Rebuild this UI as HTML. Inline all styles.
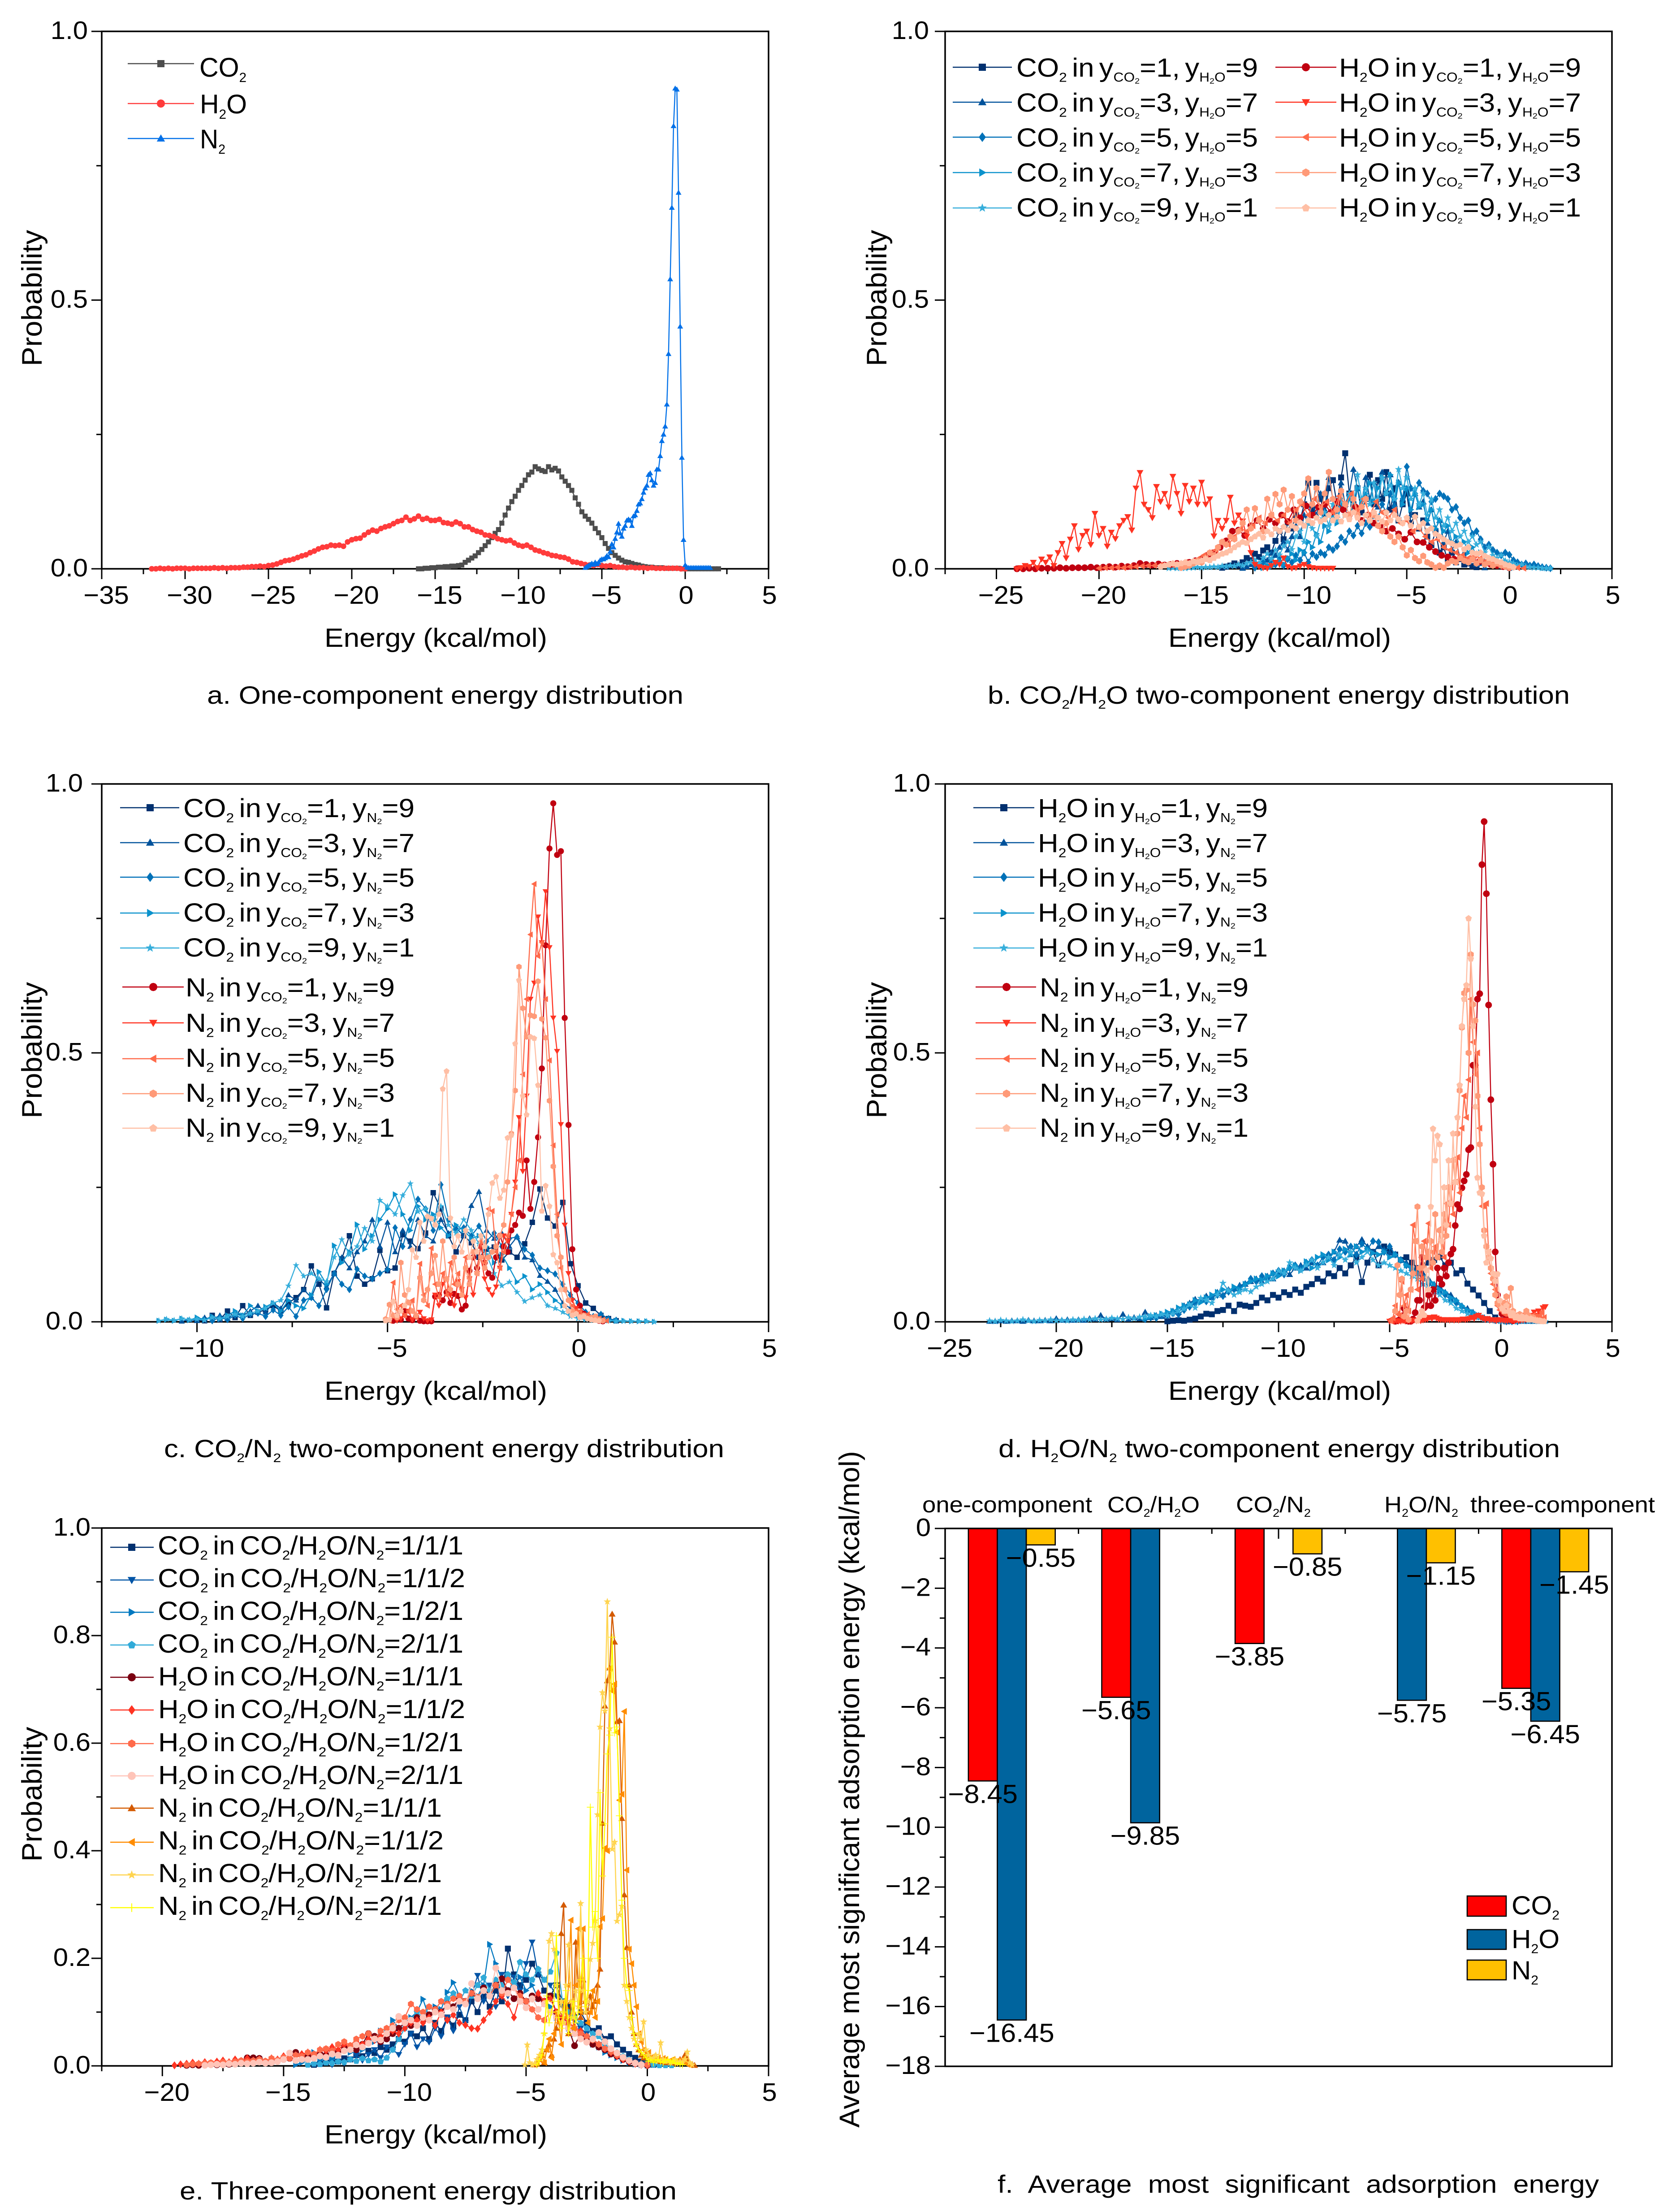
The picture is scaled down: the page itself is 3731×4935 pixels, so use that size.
<!DOCTYPE html>
<html lang="en">
<head>
<meta charset="utf-8">
<title>Energy distribution panels</title>
<style>
html,body{margin:0;padding:0;background:#fff}
#page{position:relative;width:3731px;height:4935px;overflow:hidden;background:#fff;font-family:"Liberation Sans",Arial,sans-serif;color:#000}
#chart{position:absolute;left:0;top:0}
#chart text{font-family:"Liberation Sans",Arial,sans-serif;fill:#000}
.t{position:absolute;white-space:nowrap;line-height:0;font-size:58px;word-spacing:-.1em;transform-origin:0 0}
.t sub{font-size:.5em;vertical-align:-.4em;line-height:0}
.t sub sub{font-size:.62em;vertical-align:-.25em}
.cap{font-size:56px;word-spacing:0}
.big{font-size:60px}
.cat{font-size:50px;word-spacing:0}
</style>
</head>
<body>
<div id="page">
<svg id="chart" width="3731" height="4935" viewBox="0 0 3731 4935" xmlns="http://www.w3.org/2000/svg">
<text font-size="56" text-anchor="middle" transform="translate(93,665) rotate(-90) scale(1.163,1.12)">Probability</text>
<text font-size="56" text-anchor="middle" transform="translate(1978,665) rotate(-90) scale(1.163,1.12)">Probability</text>
<text font-size="56" text-anchor="middle" transform="translate(93,2343) rotate(-90) scale(1.163,1.12)">Probability</text>
<text font-size="56" text-anchor="middle" transform="translate(1978,2343) rotate(-90) scale(1.163,1.12)">Probability</text>
<text font-size="56" text-anchor="middle" transform="translate(93,4003) rotate(-90) scale(1.15,1.12)">Probability</text>
<text font-size="56" text-anchor="middle" transform="translate(1917,3992) rotate(-90) scale(1.134,1.12)">Average most significant adsorption energy (kcal/mol)</text>
</svg>

<!-- axis titles -->
<div class="t" style="word-spacing:0" data-x="724" data-b="1444" data-w="497">Energy (kcal/mol)</div>
<div class="t" style="word-spacing:0" data-x="2607" data-b="1444" data-w="497">Energy (kcal/mol)</div>
<div class="t" style="word-spacing:0" data-x="724" data-b="3124" data-w="497">Energy (kcal/mol)</div>
<div class="t" style="word-spacing:0" data-x="2607" data-b="3124" data-w="497">Energy (kcal/mol)</div>
<div class="t" style="word-spacing:0" data-x="724" data-b="4783" data-w="497">Energy (kcal/mol)</div>

<!-- captions -->
<div class="t cap" data-x="462" data-b="1570" data-w="1063">a. One-component energy distribution</div>
<div class="t cap" data-x="2204" data-b="1570" data-w="1299">b. CO<sub>2</sub>/H<sub>2</sub>O two-component energy distribution</div>
<div class="t cap" data-x="366" data-b="3251" data-w="1250">c. CO<sub>2</sub>/N<sub>2</sub> two-component energy distribution</div>
<div class="t cap" data-x="2228" data-b="3251" data-w="1253">d. H<sub>2</sub>O/N<sub>2</sub> two-component energy distribution</div>
<div class="t cap" data-x="401" data-b="4907" data-w="1109">e. Three-component energy distribution</div>
<div class="t cap" style="word-spacing:.3em" data-x="2226" data-b="4892" data-w="1342">f. Average most significant adsorption energy</div>

<!-- legend a -->
<div class="t big" data-x="445" data-b="172" data-w="105">CO<sub>2</sub></div>
<div class="t big" data-x="446" data-b="254" data-w="105">H<sub>2</sub>O</div>
<div class="t big" data-x="446" data-b="332" data-w="57">N<sub>2</sub></div>

<!-- legend b -->
<div class="t" data-x="2268" data-b="172" data-w="539">CO<sub>2</sub> in y<sub>CO<sub>2</sub></sub>=1, y<sub>H<sub>2</sub>O</sub>=9</div>
<div class="t" data-x="2268" data-b="250" data-w="539">CO<sub>2</sub> in y<sub>CO<sub>2</sub></sub>=3, y<sub>H<sub>2</sub>O</sub>=7</div>
<div class="t" data-x="2268" data-b="328" data-w="539">CO<sub>2</sub> in y<sub>CO<sub>2</sub></sub>=5, y<sub>H<sub>2</sub>O</sub>=5</div>
<div class="t" data-x="2268" data-b="406" data-w="539">CO<sub>2</sub> in y<sub>CO<sub>2</sub></sub>=7, y<sub>H<sub>2</sub>O</sub>=3</div>
<div class="t" data-x="2268" data-b="484" data-w="539">CO<sub>2</sub> in y<sub>CO<sub>2</sub></sub>=9, y<sub>H<sub>2</sub>O</sub>=1</div>
<div class="t" data-x="2988" data-b="172" data-w="540">H<sub>2</sub>O in y<sub>CO<sub>2</sub></sub>=1, y<sub>H<sub>2</sub>O</sub>=9</div>
<div class="t" data-x="2988" data-b="250" data-w="540">H<sub>2</sub>O in y<sub>CO<sub>2</sub></sub>=3, y<sub>H<sub>2</sub>O</sub>=7</div>
<div class="t" data-x="2988" data-b="328" data-w="540">H<sub>2</sub>O in y<sub>CO<sub>2</sub></sub>=5, y<sub>H<sub>2</sub>O</sub>=5</div>
<div class="t" data-x="2988" data-b="406" data-w="540">H<sub>2</sub>O in y<sub>CO<sub>2</sub></sub>=7, y<sub>H<sub>2</sub>O</sub>=3</div>
<div class="t" data-x="2988" data-b="484" data-w="540">H<sub>2</sub>O in y<sub>CO<sub>2</sub></sub>=9, y<sub>H<sub>2</sub>O</sub>=1</div>

<!-- legend c -->
<div class="t" data-x="409" data-b="1824" data-w="516">CO<sub>2</sub> in y<sub>CO<sub>2</sub></sub>=1, y<sub>N<sub>2</sub></sub>=9</div>
<div class="t" data-x="409" data-b="1902" data-w="516">CO<sub>2</sub> in y<sub>CO<sub>2</sub></sub>=3, y<sub>N<sub>2</sub></sub>=7</div>
<div class="t" data-x="409" data-b="1979" data-w="516">CO<sub>2</sub> in y<sub>CO<sub>2</sub></sub>=5, y<sub>N<sub>2</sub></sub>=5</div>
<div class="t" data-x="409" data-b="2057" data-w="516">CO<sub>2</sub> in y<sub>CO<sub>2</sub></sub>=7, y<sub>N<sub>2</sub></sub>=3</div>
<div class="t" data-x="409" data-b="2135" data-w="516">CO<sub>2</sub> in y<sub>CO<sub>2</sub></sub>=9, y<sub>N<sub>2</sub></sub>=1</div>
<div class="t" data-x="414" data-b="2224" data-w="467">N<sub>2</sub> in y<sub>CO<sub>2</sub></sub>=1, y<sub>N<sub>2</sub></sub>=9</div>
<div class="t" data-x="414" data-b="2303" data-w="467">N<sub>2</sub> in y<sub>CO<sub>2</sub></sub>=3, y<sub>N<sub>2</sub></sub>=7</div>
<div class="t" data-x="414" data-b="2381" data-w="467">N<sub>2</sub> in y<sub>CO<sub>2</sub></sub>=5, y<sub>N<sub>2</sub></sub>=5</div>
<div class="t" data-x="414" data-b="2459" data-w="467">N<sub>2</sub> in y<sub>CO<sub>2</sub></sub>=7, y<sub>N<sub>2</sub></sub>=3</div>
<div class="t" data-x="414" data-b="2537" data-w="467">N<sub>2</sub> in y<sub>CO<sub>2</sub></sub>=9, y<sub>N<sub>2</sub></sub>=1</div>

<!-- legend d -->
<div class="t" data-x="2316" data-b="1824" data-w="513">H<sub>2</sub>O in y<sub>H<sub>2</sub>O</sub>=1, y<sub>N<sub>2</sub></sub>=9</div>
<div class="t" data-x="2316" data-b="1902" data-w="513">H<sub>2</sub>O in y<sub>H<sub>2</sub>O</sub>=3, y<sub>N<sub>2</sub></sub>=7</div>
<div class="t" data-x="2316" data-b="1979" data-w="513">H<sub>2</sub>O in y<sub>H<sub>2</sub>O</sub>=5, y<sub>N<sub>2</sub></sub>=5</div>
<div class="t" data-x="2316" data-b="2057" data-w="513">H<sub>2</sub>O in y<sub>H<sub>2</sub>O</sub>=7, y<sub>N<sub>2</sub></sub>=3</div>
<div class="t" data-x="2316" data-b="2135" data-w="513">H<sub>2</sub>O in y<sub>H<sub>2</sub>O</sub>=9, y<sub>N<sub>2</sub></sub>=1</div>
<div class="t" data-x="2320" data-b="2224" data-w="466">N<sub>2</sub> in y<sub>H<sub>2</sub>O</sub>=1, y<sub>N<sub>2</sub></sub>=9</div>
<div class="t" data-x="2320" data-b="2303" data-w="466">N<sub>2</sub> in y<sub>H<sub>2</sub>O</sub>=3, y<sub>N<sub>2</sub></sub>=7</div>
<div class="t" data-x="2320" data-b="2381" data-w="466">N<sub>2</sub> in y<sub>H<sub>2</sub>O</sub>=5, y<sub>N<sub>2</sub></sub>=5</div>
<div class="t" data-x="2320" data-b="2459" data-w="466">N<sub>2</sub> in y<sub>H<sub>2</sub>O</sub>=7, y<sub>N<sub>2</sub></sub>=3</div>
<div class="t" data-x="2320" data-b="2537" data-w="466">N<sub>2</sub> in y<sub>H<sub>2</sub>O</sub>=9, y<sub>N<sub>2</sub></sub>=1</div>

<!-- legend e -->
<div class="t" data-x="352" data-b="3469" data-w="682">CO<sub>2</sub> in CO<sub>2</sub>/H<sub>2</sub>O/N<sub>2</sub>=1/1/1</div>
<div class="t" data-x="352" data-b="3542" data-w="686">CO<sub>2</sub> in CO<sub>2</sub>/H<sub>2</sub>O/N<sub>2</sub>=1/1/2</div>
<div class="t" data-x="352" data-b="3615" data-w="682">CO<sub>2</sub> in CO<sub>2</sub>/H<sub>2</sub>O/N<sub>2</sub>=1/2/1</div>
<div class="t" data-x="352" data-b="3688" data-w="682">CO<sub>2</sub> in CO<sub>2</sub>/H<sub>2</sub>O/N<sub>2</sub>=2/1/1</div>
<div class="t" data-x="353" data-b="3761" data-w="681">H<sub>2</sub>O in CO<sub>2</sub>/H<sub>2</sub>O/N<sub>2</sub>=1/1/1</div>
<div class="t" data-x="353" data-b="3834" data-w="685">H<sub>2</sub>O in CO<sub>2</sub>/H<sub>2</sub>O/N<sub>2</sub>=1/1/2</div>
<div class="t" data-x="353" data-b="3908" data-w="681">H<sub>2</sub>O in CO<sub>2</sub>/H<sub>2</sub>O/N<sub>2</sub>=1/2/1</div>
<div class="t" data-x="353" data-b="3981" data-w="681">H<sub>2</sub>O in CO<sub>2</sub>/H<sub>2</sub>O/N<sub>2</sub>=2/1/1</div>
<div class="t" data-x="353" data-b="4054" data-w="633">N<sub>2</sub> in CO<sub>2</sub>/H<sub>2</sub>O/N<sub>2</sub>=1/1/1</div>
<div class="t" data-x="353" data-b="4127" data-w="637">N<sub>2</sub> in CO<sub>2</sub>/H<sub>2</sub>O/N<sub>2</sub>=1/1/2</div>
<div class="t" data-x="353" data-b="4200" data-w="633">N<sub>2</sub> in CO<sub>2</sub>/H<sub>2</sub>O/N<sub>2</sub>=1/2/1</div>
<div class="t" data-x="353" data-b="4273" data-w="633">N<sub>2</sub> in CO<sub>2</sub>/H<sub>2</sub>O/N<sub>2</sub>=2/1/1</div>

<!-- panel f category labels and legend -->
<div class="t cat" data-x="2058" data-b="3374" data-w="379">one-component</div>
<div class="t cat" data-x="2471" data-b="3374" data-w="206">CO<sub>2</sub>/H<sub>2</sub>O</div>
<div class="t cat" data-x="2758" data-b="3374" data-w="167">CO<sub>2</sub>/N<sub>2</sub></div>
<div class="t cat" data-x="3089" data-b="3374" data-w="165">H<sub>2</sub>O/N<sub>2</sub></div>
<div class="t cat" data-x="3281" data-b="3374" data-w="412">three-component</div>
<div class="t" data-x="3373" data-b="4272" data-w="107">CO<sub>2</sub></div>
<div class="t" data-x="3373" data-b="4347" data-w="107">H<sub>2</sub>O</div>
<div class="t" data-x="3373" data-b="4417" data-w="60">N<sub>2</sub></div>
</div>

<script>
/* ---------- panel a: probability values ---------- */
const aCO2=[0,0,.001,.001,.002,.002,.003,.003,.004,.004,.005,.005,.006,.007,.012,.016,.02,.024,.03,.036,.043,.05,.058,.066,.073,.085,.1,.113,.125,.135,.146,.155,.165,.175,.18,.19,.186,.183,.181,.19,.184,.187,.182,.171,.163,.155,.146,.132,.12,.106,.098,.092,.085,.075,.067,.058,.047,.038,.03,.025,.02,.016,.013,.012,.01,.008,.007,.005,.004,.003,.003,.002,.002,.002,.001,.001,.001,.001,.001,0,0,0,0,0,0,0,0,0,0,0,0];
const aH2O=[0,0,.001,0,.001,0,.001,.001,.001,0,.001,.001,.001,.001,.001,.002,.001,.002,.001,.002,.002,.002,.003,.003,.004,.004,.005,.004,.006,.007,.009,.012,.015,.016,.018,.021,.024,.026,.03,.033,.037,.04,.041,.044,.043,.044,.042,.05,.054,.056,.057,.063,.068,.072,.07,.075,.078,.08,.084,.088,.09,.096,.09,.093,.098,.092,.094,.09,.09,.092,.086,.085,.083,.087,.084,.078,.078,.073,.07,.068,.063,.062,.06,.056,.054,.052,.053,.048,.044,.042,.044,.04,.035,.033,.03,.028,.025,.024,.022,.021,.018,.013,.012,.01,.008,.007,.006,.008,.006,.005,.006,.004,.003,.003,.002,.003,.002,.002,.002,.001,.002,.001,.001,.001,.001,.001,.001,0,0];
const aN2=[.002,.004,.006,.008,.01,.008,.012,.009,.012,.016,.018,.018,.02,.024,.022,.032,.046,.04,.056,.068,.084,.066,.06,.075,.08,.09,.092,.09,.08,.098,.1,.108,.12,.122,.13,.142,.15,.155,.175,.178,.165,.155,.16,.185,.185,.21,.238,.25,.265,.306,.4,.539,.672,.824,.894,.892,.7,.451,.207,.054,.007,.003,.002,.002,.002,.002,.002,.002,.002,.002,.002,.002,.002,.002,.002,.002];
const aValues=[aCO2,aH2O,aN2];
const aStarts=[-16,-32,-6];
const aSteps=[.2,.25,.1];

/* ---------- panel b ---------- */
const bCO2y1=[.002,.004,.006,.01,.006,.012,.02,.016,.028,.022,.034,.04,.03,.052,.07,.055,.086,.075,.1,.09,.12,.16,.11,.16,.13,.1,.15,.165,.12,.17,.215,.14,.12,.15,.105,.13,.175,.12,.165,.13,.18,.11,.15,.09,.12,.14,.085,.1,.075,.09,.06,.044,.07,.03,.04,.016,.03,.012,.018,.008,.01,.005,.003];
const bCO2y3=[.001,.004,.008,.012,.01,.02,.016,.03,.025,.04,.05,.035,.06,.08,.06,.1,.085,.12,.1,.14,.11,.17,.13,.1,.16,.12,.14,.185,.15,.12,.17,.13,.16,.115,.18,.14,.175,.12,.16,.13,.15,.1,.14,.115,.125,.085,.11,.075,.09,.05,.07,.035,.05,.02,.03,.012,.018,.008,.01,.002];
const bCO2y5=[.002,.006,.012,.004,.016,.008,.022,.006,.018,.012,.025,.016,.03,.012,.028,.022,.03,.026,.04,.035,.042,.058,.05,.07,.062,.08,.066,.085,.078,.1,.095,.12,.105,.14,.115,.16,.13,.19,.15,.14,.16,.145,.14,.125,.13,.14,.135,.13,.11,.115,.095,.085,.09,.065,.07,.055,.04,.045,.035,.03,.025,.03,.026,.016,.012,.008,.01,.006,.008,.005,.003,.002,.001];
const bCO2y7=[.002,.006,.004,.01,.015,.008,.02,.028,.016,.035,.03,.05,.04,.065,.05,.08,.07,.1,.085,.12,.1,.13,.11,.15,.12,.14,.16,.125,.15,.17,.14,.175,.13,.16,.12,.15,.11,.14,.115,.12,.09,.11,.075,.09,.07,.08,.05,.06,.045,.05,.03,.04,.025,.03,.015,.02,.01,.012,.006,.004,.003,.002];
const bCO2y9=[.001,.002,.001,.002,.001,.002,.002,.003,.002,.003,.003,.004,.003,.005,.004,.006,.005,.008,.006,.01,.012,.016,.01,.02,.028,.018,.035,.026,.042,.05,.036,.06,.07,.05,.085,.075,.06,.09,.105,.08,.12,.09,.13,.1,.14,.12,.175,.13,.15,.12,.16,.13,.17,.14,.155,.13,.185,.15,.17,.13,.15,.12,.14,.1,.13,.095,.11,.08,.095,.07,.085,.06,.07,.05,.06,.045,.05,.03,.04,.025,.02,.025,.015,.012,.01,.006,.008,.004,.003,.002,.002,.001,.001,.001];
const bH2Oy1=[0,0,.001,0,.001,.001,.001,.002,.001,.002,.002,.002,.003,.002,.003,.004,.003,.005,.004,.006,.01,.008,.007,.009,.007,.008,.01,.008,.012,.015,.018,.025,.03,.04,.052,.07,.072,.062,.08,.09,.075,.092,.085,.1,.088,.11,.095,.117,.1,.115,.12,.105,.125,.11,.1,.115,.09,.1,.085,.08,.07,.075,.065,.055,.068,.05,.049,.04,.032,.025,.022,.018,.02,.016,.018,.0125,.01,.008,.006,.004,.002];
const bH2Oy3=[0,.002,.006,.004,.012,.002,.018,.012,.022,.006,.03,.047,.02,.055,.08,.036,.062,.07,.045,.103,.062,.075,.042,.068,.056,.08,.09,.097,.072,.15,.179,.12,.11,.095,.153,.125,.14,.115,.172,.14,.103,.155,.125,.15,.12,.161,.12,.13,.061,.09,.075,.09,.133,.085,.1,.089,.06,.03,.008,.004,.002,.001,.006,.012,.008,.02,.004,.001,.002,.005,.008,.004,.002,.001,.001,.001,.001,.001];
const bH2Oy5=[.001,.002,.002,.003,.002,.004,.004,.005,.006,.006,.007,.008,.007,.01,.012,.012,.018,.025,.03,.035,.05,.045,.06,.075,.07,.08,.095,.085,.1,.09,.1,.085,.11,.12,.1,.13,.115,.125,.105,.135,.12,.14,.11,.13,.1,.125,.105,.095,.11,.085,.09,.07,.075,.06,.05,.055,.04,.035,.03,.025,.02,.025,.02,.015,.012,.01,.006,.003,.002,.001];
const bH2Oy7=[.002,.004,.006,.01,.015,.012,.02,.03,.025,.04,.05,.045,.06,.055,.07,.085,.11,.075,.1125,.09,.07,.13,.1,.139,.12,.147,.11,.135,.09,.125,.14,.168,.12,.15,.105,.14,.18,.13,.11,.145,.12,.1,.13,.1,.115,.13,.09,.1,.08,.07,.085,.06,.05,.06,.04,.025,.035,.02,.014,.024,.012,.008,.002,.006,.002,.01,.015,.012,.02,.015,.012,.018,.01,.016,.008,.012,.006,.01,.006,.004,.002];
const bH2Oy9=[.004,.006,.008,.01,.008,.01,.012,.01,.014,.012,.015,.018,.016,.02,.024,.028,.03,.034,.04,.045,.05,.048,.055,.06,.065,.058,.07,.064,.075,.07,.078,.072,.08,.075,.086,.08,.09,.085,.095,.088,.092,.1,.09,.097,.088,.1,.092,.105,.095,.085,.1,.09,.105,.095,.088,.105,.09,.1,.092,.085,.095,.08,.097,.078,.085,.07,.075,.065,.06,.055,.05,.047,.042,.045,.036,.04,.03,.028,.03,.024,.02,.018,.014,.012,.008,.006,.003];
const bValues=[bCO2y1,bCO2y3,bCO2y5,bCO2y7,bCO2y9,bH2Oy1,bH2Oy3,bH2Oy5,bH2Oy7,bH2Oy9];
const bStarts=[-14,-13,-12.4,-12,-16.6,-24,-24,-20,-16,-17];
const bSteps=[.2,.2,.2,.2,.2,.3,.2,.3,.2,.2];

/* ---------- panel c ---------- */
const cCO2y1=[.003,.002,.012,.004,.02,.008,.03,.012,.018,.022,.03,.02,.035,.045,.06,.104,.07,.026,.09,.117,.16,.085,.07,.08,.133,.095,.1,.162,.15,.136,.165,.24,.21,.16,.13,.16,.147,.12,.135,.139,.115,.13,.12,.145,.185,.247,.193,.178,.222,.108,.067,.035,.025,.012,.006,.002];
const cCO2y3=[.001,.004,.002,.008,.004,.012,.006,.016,.012,.02,.03,.018,.035,.025,.05,.04,.06,.045,.08,.065,.09,.12,.1,.13,.15,.19,.14,.185,.13,.17,.14,.19,.16,.15,.19,.165,.175,.16,.216,.242,.17,.155,.165,.14,.158,.12,.115,.086,.075,.06,.035,.025,.018,.01,.008,.006,.004,.002];
const cCO2y5=[.002,.008,.004,.012,.006,.014,.016,.01,.022,.012,.028,.01,.04,.045,.03,.06,.09,.07,.06,.098,.085,.08,.09,.097,.175,.14,.19,.228,.21,.17,.255,.19,.17,.175,.16,.178,.15,.165,.14,.155,.158,.135,.124,.1,.095,.089,.07,.05,.035,.018,.01,.014,.006,.003];
const cCO2y7=[.002,.004,.002,.006,.003,.008,.004,.01,.005,.012,.02,.012,.03,.02,.028,.035,.02,.04,.03,.025,.05,.093,.07,.142,.11,.13,.181,.135,.16,.19,.21,.237,.2,.17,.215,.19,.2,.175,.16,.18,.17,.155,.16,.14,.11,.125,.1,.074,.085,.06,.07,.055,.04,.03,.018,.012,.006,.004,.006,.003,.002,.002,.001,.001,.001,0];
const cCO2y9=[.002,.005,.003,.006,.004,.005,.003,.008,.006,.01,.014,.01,.016,.02,.025,.035,.04,.067,.105,.085,.09,.08,.075,.12,.153,.125,.14,.174,.15,.226,.215,.2,.235,.257,.205,.21,.19,.215,.18,.165,.19,.17,.145,.125,.09,.067,.074,.055,.038,.045,.05,.03,.025,.018,.01,.006,.004,.003,.002,.002,.001,.001,.001,.001,.001,0];
const cN2y1=[.002,.012,.004,.02,.006,.003,.01,.002,.001,.001,.001,.047,.05,.04,.055,.035,.052,.048,.023,.03,.095,.12,.1,.14,.11,.09,.082,.12,.16,.14,.13,.17,.18,.203,.197,.3,.21,.26,.343,.471,.7,.88,.964,.868,.875,.565,.366,.135,.06,.03,.015,.01,.006,.004,.002,.001];
const cN2y3=[.01,.002,.006,.012,.02,.004,.012,.018,.006,.002,.004,.05,.03,.07,.08,.05,.03,.075,.06,.045,.08,.05,.09,.12,.08,.06,.05,.065,.1,.16,.15,.2,.26,.38,.28,.42,.6,.63,.753,.705,.8,.696,.565,.503,.367,.18,.09,.04,.025,.015,.01,.006,.008,.004,.006,.002];
const cN2y5=[.002,.073,.023,.03,.012,.02,.04,.008,.108,.05,.03,.137,.07,.045,.09,.05,.11,.07,.09,.06,.12,.08,.13,.09,.15,.11,.21,.206,.13,.1,.13,.16,.2,.25,.3,.46,.6,.72,.814,.68,.705,.6,.486,.328,.2,.1,.06,.04,.03,.02,.02,.012,.014,.008,.01,.006,.004,.002];
const cN2y7=[.005,.032,.012,.008,.11,.05,.036,.02,.012,.082,.04,.06,.09,.123,.07,.15,.08,.06,.12,.07,.05,.1,.07,.13,.09,.12,.1,.12,.13,.14,.16,.18,.26,.35,.43,.66,.583,.53,.57,.568,.633,.563,.528,.411,.289,.16,.12,.06,.04,.02,.015,.01,.012,.006,.008,.01,.004,.002];
const cN2y9=[.002,.004,.038,.012,.02,.03,.06,.134,.12,.185,.15,.196,.192,.18,.2,.433,.466,.193,.14,.16,.13,.17,.12,.15,.13,.16,.14,.2,.258,.27,.23,.245,.342,.347,.517,.635,.42,.385,.53,.527,.44,.206,.253,.215,.125,.11,.06,.03,.02,.012,.015,.008,.01,.006,.004,.003,.002];
const cValues=[cCO2y1,cCO2y3,cCO2y5,cCO2y7,cCO2y9,cN2y1,cN2y3,cN2y5,cN2y7,cN2y9];
const cStarts=[-10,-10.4,-9.6,-11,-11,-4.85,-4.85,-4.95,-5.05,-5.05];
const cSteps=[.2,.2,.2,.2,.2,.1,.1,.1,.1,.1];

/* ---------- panel d ---------- */
const dH2Oy1=[.001,.002,.003,.002,.004,.006,.01,.015,.014,.02,.022,.03,.02,.032,.03,.028,.035,.045,.04,.05,.045,.055,.05,.06,.054,.065,.07,.08,.075,.09,.085,.1,.09,.105,.12,.074,.11,.13,.105,.14,.132,.125,.115,.12,.11,.1,.105,.11,.115,.121,.105,.11,.09,.096,.071,.06,.049,.035,.02,.008,.003,.001];
const dH2Oy3=[.001,.001,.002,.001,.002,.002,.001,.003,.002,.002,.003,.002,.006,.003,.004,.003,.004,.003,.006,.005,.012,.005,.006,.004,.014,.005,.008,.006,.018,.008,.012,.01,.012,.02,.018,.03,.035,.042,.04,.048,.045,.055,.05,.06,.062,.068,.07,.075,.08,.075,.085,.08,.09,.095,.088,.1,.105,.1,.11,.105,.11,.12,.13,.152,.15,.125,.14,.153,.14,.13,.14,.135,.128,.125,.115,.11,.1,.095,.09,.08,.07,.065,.055,.05,.04,.03,.025,.018,.012,.008,.005,.003,.002,.001,.001,.001,.001,.001,.001,.001,.002];
const dH2Oy5=[.005,.008,.007,.012,.012,.016,.014,.022,.028,.034,.04,.038,.046,.05,.048,.056,.06,.065,.07,.08,.075,.085,.08,.09,.095,.088,.1,.105,.1,.11,.115,.105,.12,.125,.115,.135,.13,.14,.125,.145,.135,.15,.148,.13,.14,.125,.115,.105,.095,.09,.08,.07,.065,.055,.05,.04,.035,.028,.02,.014,.01,.006,.004,.003,.002,.001,.001,.001];
const dH2Oy7=[.006,.01,.012,.015,.018,.02,.026,.03,.032,.04,.036,.045,.05,.055,.06,.058,.065,.06,.07,.075,.08,.078,.085,.09,.085,.095,.1,.105,.095,.112,.1,.12,.125,.115,.13,.12,.135,.125,.14,.13,.135,.128,.125,.13,.12,.125,.115,.105,.1,.09,.085,.075,.07,.06,.055,.045,.04,.03,.022,.018,.012,.008,.005,.003,.002,.001,.001,.001];
const dH2Oy9=[.002,.001,.003,.002,.001,.002,.004,.002,.001,.003,.002,.004,.002,.003,.002,.004,.003,.005,.004,.006,.004,.005,.007,.006,.005,.008,.006,.009,.01,.012,.01,.014,.012,.015,.02,.024,.032,.026,.044,.04,.035,.05,.072,.058,.05,.055,.06,.056,.065,.07,.075,.08,.095,.09,.11,.1,.095,.105,.115,.1,.11,.12,.105,.125,.115,.13,.11,.12,.13,.115,.105,.11,.105,.1,.095,.09,.085,.08,.07,.062,.055,.05,.04,.035,.025,.02,.015,.01,.008,.005,.004,.003,.002,.002,.002,.001,.001,.001,.001,.002,.001];
const dN2y1=[.001,.002,.004,.01,.025,.002,.001,.001,.005,.017,.04,.04,.12,.026,.03,.05,.03,.06,.04,.1,.08,.07,.1,.085,.11,.126,.135,.179,.218,.21,.249,.262,.274,.32,.324,.477,.477,.6,.61,.85,.93,.796,.589,.413,.293,.13,.05,.03,.015,.02,.008,.006,.004,.002];
const dN2y3=[.001,.002,.001,.002,.001,.001,.002,.001,.002,.002,.002,.003,.002,.003,.002,.003,.004,.005,.008,.006,.009,.007,.005,.004,.004,.003,.004,.003,.004,.003,.004,.003,.004,.005,.004,.005,.006,.008,.006,.01,.012,.008,.006,.004,.006,.003,.004,.003,.002,.004,.003,.003,.002,.002,.003,.002,.002,.003,.002,.003,.003,.004,.005,.008,.012,.018,.012,.02,.016,.026,.028];
const dN2y5=[.002,.007,.03,.015,.012,.075,.03,.05,.02,.06,.18,.15,.06,.1,.08,.15,.12,.183,.1,.13,.14,.12,.17,.175,.12,.22,.18,.25,.2,.26,.306,.24,.36,.42,.38,.45,.6,.52,.46,.5,.36,.215,.215,.22,.13,.09,.07,.06,.03,.022,.02,.015,.018,.012,.01,.016,.008,.01,.006,.012,.005,.01,.006,.008,.012,.01,.008,.012,.018,.008];
const dN2y7=[.02,.105,.05,.08,.01,.02,.004,.06,.09,.15,.214,.1,.14,.1,.12,.13,.15,.11,.2,.12,.17,.13,.2,.16,.25,.22,.3,.26,.35,.43,.547,.611,.617,.5,.683,.59,.56,.42,.33,.25,.17,.14,.12,.1,.08,.05,.035,.03,.028,.035,.047,.03,.0625,.02,.012,.008,.014,.006,.01,.02,.012,.005,.008,.004,.003];
const dN2y9=[.002,.01,.02,.0125,.096,.06,.214,.359,.3,.346,.33,.15,.25,.18,.3,.22,.35,.26,.38,.44,.55,.6,.626,.75,.675,.55,.4,.268,.24,.238,.16,.11,.13,.118,.09,.076,.089,.04,.025,.02,.03,.02,.012,.016,.008,.01,.006,.01,.006,.008,.004,.006,.004,.003,.002,.002,.001,.001];
const dValues=[dH2Oy1,dH2Oy3,dH2Oy5,dH2Oy7,dH2Oy9,dN2y1,dN2y3,dN2y5,dN2y7,dN2y9];
const dStarts=[-15,-23,-16,-16,-23,-4.75,-5,-4.95,-4.75,-3.75];
const dSteps=[.25,.25,.25,.25,.25,.1,.1,.1,.1,.1];

/* ---------- panel e ---------- */
const eCO2r111=[.002,.004,.006,.01,.008,.014,.012,.02,.018,.028,.024,.035,.03,.04,.05,.045,.06,.055,.07,.05,.08,.065,.09,.075,.095,.085,.12,.1,.13,.11,.14,.12,.218,.17,.15,.16,.19,.17,.14,.13,.15,.12,.11,.09,.1,.08,.065,.07,.05,.055,.04,.03,.022,.015,.008,.005,.002];
const eCO2r112=[.002,.008,.005,.012,.02,.01,.021,.03,.015,.035,.03,.021,.04,.06,.035,.05,.044,.07,.055,.09,.065,.11,.08,.13,.168,.12,.15,.11,.17,.13,.165,.14,.19,.23,.17,.16,.15,.13,.11,.1,.085,.07,.06,.05,.04,.03,.022,.02,.012,.008,.004,.002,.001];
const eCO2r121=[.002,.006,.012,.025,.01,.016,.012,.022,.03,.025,.04,.03,.05,.045,.065,.06,.085,.07,.08,.09,.1,.124,.09,.11,.105,.137,.155,.13,.12,.14,.13,.15,.226,.19,.16,.17,.15,.165,.14,.15,.125,.12,.11,.09,.085,.07,.06,.065,.05,.04,.035,.025,.02,.015,.01,.006,.003,.002,.001];
const eCO2r211=[.002,.004,.003,.006,.005,.008,.007,.012,.009,.014,.01,.012,.008,.015,.03,.05,.07,.085,.1,.09,.11,.105,.12,.125,.135,.12,.14,.13,.15,.164,.14,.16,.15,.17,.155,.193,.17,.16,.18,.16,.175,.21,.12,.1,.09,.08,.07,.06,.055,.04,.03,.025,.018,.012,.006,.004,.002,.002,.001,.001,.001];
const eH2Or111=[.001,.002,.001,.002,.003,.002,.004,.003,.006,.008,.015,.015,.014,.008,.006,.01,.012,.014,.025,.012,.018,.015,.022,.02,.028,.025,.035,.035,.03,.04,.06,.055,.045,.05,.06,.07,.08,.075,.09,.085,.095,.105,.1,.115,.11,.125,.12,.135,.125,.145,.13,.15,.162,.14,.125,.135,.12,.13,.125,.12,.13,.1,.085,.07,.0375,.06,.05,.04,.035,.03,.022,.018,.012,.008,.004,.002,.001];
const eH2Or112=[.001,.003,.004,.006,.004,.007,.005,.008,.01,.007,.012,.009,.014,.01,.012,.008,.014,.012,.018,.015,.02,.022,.025,.02,.03,.028,.035,.03,.04,.035,.045,.04,.05,.048,.055,.06,.065,.06,.07,.08,.085,.08,.09,.075,.1,.085,.095,.08,.076,.07,.069,.085,.1,.12,.13,.115,.09,.13,.12,.125,.135,.12,.125,.1,.09,.08,.072,.065,.055,.05,.04,.032,.025,.018,.012,.008,.004,.002,.001];
const eH2Or121=[.002,.003,.004,.005,.006,.004,.007,.006,.008,.01,.008,.01,.012,.009,.014,.011,.016,.014,.02,.018,.025,.022,.03,.032,.028,.04,.045,.038,.05,.055,.06,.05,.065,.07,.075,.085,.09,.115,.105,.1,.11,.105,.12,.115,.125,.13,.12,.135,.128,.14,.13,.15,.135,.16,.145,.13,.12,.105,.09,.085,.1,.09,.08,.075,.07,.06,.055,.048,.04,.032,.026,.02,.014,.01,.006,.003,.002];
const eH2Or211=[.001,.002,.003,.002,.004,.003,.005,.004,.005,.007,.005,.006,.008,.012,.024,.01,.012,.012,.014,.018,.016,.022,.02,.028,.03,.039,.035,.042,.05,.048,.06,.07,.092,.08,.085,.075,.09,.085,.1,.095,.11,.105,.12,.115,.153,.125,.14,.13,.182,.14,.135,.145,.12,.108,.125,.105,.115,.1,.09,.08,.07,.06,.05,.044,.05,.062,.045,.032,.024,.016,.01,.005,.002];
const eN2r111=[.002,.006,.012,.02,.006,.03,.04,.02,.05,.07,.1,.246,.299,.11,.06,.12,.1,.23,.15,.09,.16,.12,.1,.13,.11,.12,.15,.18,.451,.669,.716,.74,.84,.788,.64,.642,.46,.318,.22,.15,.1,.06,.04,.03,.02,.015,.018,.02,.012,.015,.01,.012,.008,.01,.006,.008,.006,.01,.005,.008,.012,.01,.02,.012,.006,.003,.001];
const eN2r112=[.004,.012,.02,.006,.03,.05,.015,.06,.1,.08,.04,.12,.09,.15,.271,.07,.15,.255,.1,.255,.12,.08,.1,.14,.09,.12,.259,.274,.405,.4,.739,.697,.71,.62,.494,.505,.659,.364,.217,.19,.15,.11,.06,.045,.03,.02,.025,.015,.018,.012,.015,.01,.014,.012,.008,.01,.012,.006,.01,.008,.012,.006,.003,.002];
const eN2r121=[.002,.039,.006,.002,.004,.012,.02,.03,.06,.12,.232,.246,.217,.15,.1,.12,.08,.15,.225,.12,.09,.14,.11,.302,.14,.1,.12,.198,.228,.27,.467,.63,.694,.66,.863,.627,.403,.416,.269,.281,.297,.15,.12,.09,.07,.05,.04,.06,.05,.082,.03,.02,.012,.015,.02,.01,.043,.012,.008,.01,.006,.008,.012,.006,.008,.006,.012,.026,.006,.002];
const eN2r211=[.002,.01,.02,.06,.13,.08,.1,.12,.242,.09,.07,.1,.14,.06,.09,.12,.08,.1,.16,.2,.11,.14,.481,.258,.287,.2,.508,.353,.45,.58,.615,.797,.619,.63,.465,.308,.2,.15,.14,.09,.06,.04,.03,.025,.02,.015,.008,.012,.006,.01,.012,.008,.006,.01,.012,.006,.01,.004,.006,.003,.002];
const eValues=[eCO2r111,eCO2r112,eCO2r121,eCO2r211,eH2Or111,eH2Or112,eH2Or121,eH2Or211,eN2r111,eN2r112,eN2r121,eN2r211];
const eStarts=[-13.75,-13,-14.5,-14,-19,-19.5,-19,-18.25,-4.65,-4.55,-5.05,-4.55];
const eSteps=[.25,.25,.25,.25,.25,.25,.25,.25,.1,.1,.1,.1];

/* ---------- panel f: bar values ---------- */
const fCategories=['one-component','CO2/H2O','CO2/N2','H2O/N2','three-component'];
const fCO2=[-8.45,-5.65,-3.85,null,-5.35];
const fH2O=[-16.45,-9.85,null,-5.75,-6.45];
const fN2=[-.55,null,-.85,-1.15,-1.45];

/* ---------- tick values and labels ---------- */
const aXTicks=[-35,-30,-25,-20,-15,-10,-5,0,5];
const aXLabels=['−35','−30','−25','−20','−15','−10','−5','0','5'];
const bXTicks=[-25,-20,-15,-10,-5,0,5];
const bXLabels=['−25','−20','−15','−10','−5','0','5'];
const cXTicks=[-10,-5,0,5];
const cXLabels=['−10','−5','0','5'];
const dXTicks=[-25,-20,-15,-10,-5,0,5];
const dXLabels=['−25','−20','−15','−10','−5','0','5'];
const eXTicks=[-20,-15,-10,-5,0,5];
const eXLabels=['−20','−15','−10','−5','0','5'];
const probTicks=[0,.5,1];
const probLabels=['0.0','0.5','1.0'];
const eYTicks=[0,.2,.4,.6,.8,1];
const eYLabels=['0.0','0.2','0.4','0.6','0.8','1.0'];
const fYTicks=[0,-2,-4,-6,-8,-10,-12,-14,-16,-18];
const fYLabels=['0','−2','−4','−6','−8','−10','−12','−14','−16','−18'];

/* ---------- drawing ---------- */
const svg=document.getElementById('chart');
const NS='http://www.w3.org/2000/svg';

const blues=['#00306f','#00529b','#0071b8','#0b92cc','#36aedb'];
const reds=['#c00010','#ff3322','#ff6a4a','#ff9a78','#ffbfa5'];
const eColors=['#00306f','#0054a6','#0078c0','#30aad8','#7a0010','#ff3322','#ff6a4a','#ffc4b8','#d45a00','#ff8c00','#ffd44f','#ffff00'];
const shapes={
 square:[[-1,-1],[1,-1],[1,1],[-1,1]],
 up:[[0,-1.15],[1.15,.85],[-1.15,.85]],
 down:[[0,1.15],[1.15,-.85],[-1.15,-.85]],
 left:[[-1.15,0],[.85,-1.15],[.85,1.15]],
 right:[[1.15,0],[-.85,-1.15],[-.85,1.15]],
 diamond:[[0,-1.35],[1,0],[0,1.35],[-1,0]],
 hex:[[0,-1.15],[1,-.58],[1,.58],[0,1.15],[-1,.58],[-1,-.58]],
 pent:[[0,-1.15],[1.1,-.35],[.68,.95],[-.68,.95],[-1.1,-.35]],
 star:[[0,-1.3],[.32,-.42],[1.25,-.4],[.5,.16],[.78,1.05],[0,.52],[-.78,1.05],[-.5,.16],[-1.25,-.4],[-.32,-.42]],
 plus:[[-.12,-1.2],[.12,-1.2],[.12,-.12],[1.2,-.12],[1.2,.12],[.12,.12],[.12,1.2],[-.12,1.2],[-.12,.12],[-1.2,.12],[-1.2,-.12],[-.12,-.12]],
 circle:[[0,-1.15],[.58,-1],[1,-.58],[1.15,0],[1,.58],[.58,1],[0,1.15],[-.58,1],[-1,.58],[-1.15,0],[-1,-.58],[-.58,-1]]
};

function markerD(kind,cx,cy,r){
  return 'M'+shapes[kind].map(p=>(cx+p[0]*r).toFixed(1)+' '+(cy+p[1]*r).toFixed(1)).join('L')+'Z';
}
function addLine(x1,y1,x2,y2,w,color,name){
  const el=document.createElementNS(NS,'line');
  el.setAttribute('x1',x1);el.setAttribute('y1',y1);el.setAttribute('x2',x2);el.setAttribute('y2',y2);
  el.setAttribute('stroke',color);el.setAttribute('stroke-width',w);
  
  
  svg.appendChild(el);
}
function addText(str,x,y,anchor,size,sx,name){
  const el=document.createElementNS(NS,'text');
  el.textContent=str;
  el.setAttribute('text-anchor',anchor);
  el.setAttribute('font-size',size);
  el.setAttribute('transform','translate('+x+','+y+') scale('+sx+',1)');
  
  
  svg.appendChild(el);
}
function makeAxes(p){
  p.x=v=>p.L+(v-p.xMin)*(p.R-p.L)/(p.xMax-p.xMin);
  p.y=v=>p.B-(v-p.yMin)*(p.B-p.T)/(p.yMax-p.yMin);
}
function drawAxes(p){
  const frame=document.createElementNS(NS,'rect');
  frame.setAttribute('x',p.L);frame.setAttribute('y',p.T);
  frame.setAttribute('width',p.R-p.L);frame.setAttribute('height',p.B-p.T);
  frame.setAttribute('fill','none');frame.setAttribute('stroke','#000');frame.setAttribute('stroke-width',3.5);
  
  
  svg.appendChild(frame);
  const nx=Math.round((p.xMax-p.xMin)/2.5);
  for(let i=0;i<=nx;i++){
    const v=p.xMin+i*2.5;
    const major=p.xTicks.indexOf(v)>=0;
    addLine(p.x(v),p.B,p.x(v),p.B+(major?23:12),3,'#000',p.id+(major?'-x-tick':'-x-minor-tick'));
  }
  p.xTicks.forEach((v,i)=>{
    addText(p.xLabels[i],p.x(v)+(v<0?10:2),p.B+78,'middle',57,1.05,p.id+'-x-tick-label');
  });
  const ny=Math.round((p.yMax-p.yMin)/p.yMinor);
  for(let i=0;i<=ny;i++){
    const v=p.yMin+i*p.yMinor;
    const major=p.yTicks.some(t=>Math.abs(t-v)<1e-6);
    addLine(p.L-(major?23:12),p.y(v),p.L,p.y(v),3,'#000',p.id+(major?'-y-tick':'-y-minor-tick'));
  }
  p.yTicks.forEach((v,i)=>{
    addText(p.yLabels[i],p.labelRight,p.y(v)+17,'end',57,1.05,p.id+'-y-tick-label');
  });
}
function drawSeries(p,values,starts,steps,colors,symbols,names){
  values.forEach((vals,s)=>{
    const pts=vals.map((v,i)=>[p.x(starts[s]+i*steps[s]),p.y(v)]);
    const line=document.createElementNS(NS,'polyline');
    line.setAttribute('points',pts.map(q=>q[0].toFixed(1)+','+q[1].toFixed(1)).join(' '));
    line.setAttribute('fill','none');
    line.setAttribute('stroke',colors[s]);
    line.setAttribute('stroke-width',2.4);
    
    
    svg.appendChild(line);
    pts.forEach(q=>{
      const m=document.createElementNS(NS,'path');
      m.setAttribute('d',markerD(symbols[s],q[0],q[1],p.mark));
      m.setAttribute('fill',colors[s]);
      
      
      svg.appendChild(m);
    });
  });
}
function drawLegendKey(x1,x2,y,mx,color,symbol,name){
  addLine(x1,y,x2,y,2.6,color,name+'-legend-line');
  const m=document.createElementNS(NS,'path');
  m.setAttribute('d',markerD(symbol,mx,y,8));
  m.setAttribute('fill',color);
  
  
  svg.appendChild(m);
}

const twoCompSymbols=['square','up','diamond','right','star','circle','down','left','hex','pent'];
const twoCompColors=blues.concat(reds);

/* panel a */
const pA={id:'panel-a',L:227,R:1715,T:70,B:1269,xMin:-35,xMax:5,yMin:0,yMax:1,yMinor:.25,xTicks:aXTicks,xLabels:aXLabels,yTicks:probTicks,yLabels:probLabels,labelRight:196,mark:5.6};
makeAxes(pA);drawAxes(pA);
drawSeries(pA,aValues,aStarts,aSteps,['#4d4d4d','#ff3b3b','#0070e8'],['square','circle','up'],['co2','h2o','n2']);
drawLegendKey(285,433,142,359,'#4d4d4d','square','a-co2');
drawLegendKey(285,433,231,359,'#ff3b3b','circle','a-h2o');
drawLegendKey(285,433,309,359,'#0070e8','up','a-n2');

/* panel b */
const pB={id:'panel-b',L:2109,R:3597,T:70,B:1269,xMin:-27.5,xMax:5,yMin:0,yMax:1,yMinor:.25,xTicks:bXTicks,xLabels:bXLabels,yTicks:probTicks,yLabels:probLabels,labelRight:2073,mark:6.6};
makeAxes(pB);drawAxes(pB);
const bNames=['b-co2-y1','b-co2-y3','b-co2-y5','b-co2-y7','b-co2-y9','b-h2o-y1','b-h2o-y3','b-h2o-y5','b-h2o-y7','b-h2o-y9'];
drawSeries(pB,bValues,bStarts,bSteps,twoCompColors,twoCompSymbols,bNames);
[150,228,306,385,464].forEach((y,i)=>{
  drawLegendKey(2126,2258,y,2192,blues[i],twoCompSymbols[i],bNames[i]);
  drawLegendKey(2846,2982,y,2914,reds[i],twoCompSymbols[i+5],bNames[i+5]);
});

/* panel c */
const pC={id:'panel-c',L:227,R:1715,T:1749,B:2949,xMin:-12.5,xMax:5,yMin:0,yMax:1,yMinor:.25,xTicks:cXTicks,xLabels:cXLabels,yTicks:probTicks,yLabels:probLabels,labelRight:185,mark:6};
makeAxes(pC);drawAxes(pC);
const cNames=['c-co2-y1','c-co2-y3','c-co2-y5','c-co2-y7','c-co2-y9','c-n2-y1','c-n2-y3','c-n2-y5','c-n2-y7','c-n2-y9'];
drawSeries(pC,cValues,cStarts,cSteps,twoCompColors,twoCompSymbols,cNames);
[1802,1880,1957,2037,2115].forEach((y,i)=>{
  drawLegendKey(268,400,y,335,blues[i],twoCompSymbols[i],cNames[i]);
});
[2202,2282,2362,2440,2517].forEach((y,i)=>{
  drawLegendKey(273,410,y,342,reds[i],twoCompSymbols[i+5],cNames[i+5]);
});

/* panel d */
const pD={id:'panel-d',L:2109,R:3597,T:1749,B:2949,xMin:-25,xMax:5,yMin:0,yMax:1,yMinor:.25,xTicks:dXTicks,xLabels:dXLabels,yTicks:probTicks,yLabels:probLabels,labelRight:2076,mark:6.6};
makeAxes(pD);drawAxes(pD);
const dNames=['d-h2o-y1','d-h2o-y3','d-h2o-y5','d-h2o-y7','d-h2o-y9','d-n2-y1','d-n2-y3','d-n2-y5','d-n2-y7','d-n2-y9'];
drawSeries(pD,dValues,dStarts,dSteps,twoCompColors,twoCompSymbols,dNames);
[1802,1880,1957,2037,2115].forEach((y,i)=>{
  drawLegendKey(2172,2308,y,2240,blues[i],twoCompSymbols[i],dNames[i]);
});
[2202,2282,2362,2440,2517].forEach((y,i)=>{
  drawLegendKey(2177,2312,y,2246,reds[i],twoCompSymbols[i+5],dNames[i+5]);
});

/* panel e */
const pE={id:'panel-e',L:227,R:1715,T:3409,B:4609,xMin:-22.5,xMax:5,yMin:0,yMax:1,yMinor:.1,xTicks:eXTicks,xLabels:eXLabels,yTicks:eYTicks,yLabels:eYLabels,labelRight:202,mark:6.6};
makeAxes(pE);drawAxes(pE);
const eSymbols=['square','down','right','pent','circle','diamond','hex','circle','up','left','star','plus'];
const eNames=['e-co2-111','e-co2-112','e-co2-121','e-co2-211','e-h2o-111','e-h2o-112','e-h2o-121','e-h2o-211','e-n2-111','e-n2-112','e-n2-121','e-n2-211'];
drawSeries(pE,eValues,eStarts,eSteps,eColors,eSymbols,eNames);
[3452,3525,3597,3670,3742,3815,3890,3962,4034,4110,4183,4256].forEach((y,i)=>{
  drawLegendKey(246,343,y,294,eColors[i],eSymbols[i],eNames[i]);
});

/* panel f */
const pF={id:'panel-f',L:2109,R:3597,T:3410,B:4610};
const fY=v=>pF.T+(0-v)*(pF.B-pF.T)/18;
const fCatW=(pF.R-pF.L)/fCategories.length;
const fBarW=64.6;
const fX=(cat,ser)=>pF.L+(cat+.5)*fCatW+(ser-1)*fBarW;
for(let i=0;i<=18;i++){
  const major=i%2===0;
  addLine(pF.L-(major?23:12),fY(-i),pF.L,fY(-i),3,'#000',major?'panel-f-y-tick':'panel-f-y-minor-tick');
}
fYTicks.forEach((v,i)=>{
  addText(fYLabels[i],2077,fY(v)+17,'end',57,1.05,'panel-f-y-tick-label');
});
for(let i=0;i<fCategories.length;i++){
  addLine(pF.L+(i+.5)*fCatW,pF.T,pF.L+(i+.5)*fCatW,pF.T+23,3,'#000','panel-f-x-tick');
  if(i<fCategories.length-1){
    addLine(pF.L+(i+1)*fCatW,pF.T,pF.L+(i+1)*fCatW,pF.T+12,3,'#000','panel-f-x-minor-tick');
  }
}
const fSeries=[fCO2,fH2O,fN2];
const fColors=['#ff0000','#00649e','#ffc000'];
const fSeriesNames=['co2','h2o','n2'];
fSeries.forEach((vals,s)=>{
  vals.forEach((v,c)=>{
    if(v===null)return;
    const bar=document.createElementNS(NS,'rect');
    bar.setAttribute('x',fX(c,s)-fBarW/2);
    bar.setAttribute('y',fY(0));
    bar.setAttribute('width',fBarW);
    bar.setAttribute('height',fY(v)-fY(0));
    bar.setAttribute('fill',fColors[s]);
    bar.setAttribute('stroke','#000');
    bar.setAttribute('stroke-width',2.6);
    
    
    svg.appendChild(bar);
  });
});
const frameF=document.createElementNS(NS,'rect');
frameF.setAttribute('x',pF.L);frameF.setAttribute('y',pF.T);
frameF.setAttribute('width',pF.R-pF.L);frameF.setAttribute('height',pF.B-pF.T);
frameF.setAttribute('fill','none');frameF.setAttribute('stroke','#000');frameF.setAttribute('stroke-width',3.5);


svg.appendChild(frameF);
fSeries.forEach((vals,s)=>{
  vals.forEach((v,c)=>{
    if(v===null)return;
    addText(v.toFixed(2).replace('-','−'),fX(c,s),fY(v)+49,'middle',58,1.06,'bar-value-label');
  });
});
[[4230,4275],[4305,4349],[4373,4417]].forEach((r,i)=>{
  const sw=document.createElementNS(NS,'rect');
  sw.setAttribute('x',3274);sw.setAttribute('y',r[0]);
  sw.setAttribute('width',87);sw.setAttribute('height',r[1]-r[0]);
  sw.setAttribute('fill',fColors[i]);sw.setAttribute('stroke','#000');sw.setAttribute('stroke-width',2.6);
  
  
  svg.appendChild(sw);
});

/* place HTML text at its baseline and fit its width */
document.querySelectorAll('.t').forEach(el=>{
  const fs=parseFloat(getComputedStyle(el).fontSize);
  el.style.left=el.dataset.x+'px';
  el.style.top=(el.dataset.b-.3465*fs)+'px';
  const s=el.dataset.w/el.getBoundingClientRect().width;
  el.style.transform='scaleX('+s.toFixed(4)+')';
});
</script>
</body>
</html>
